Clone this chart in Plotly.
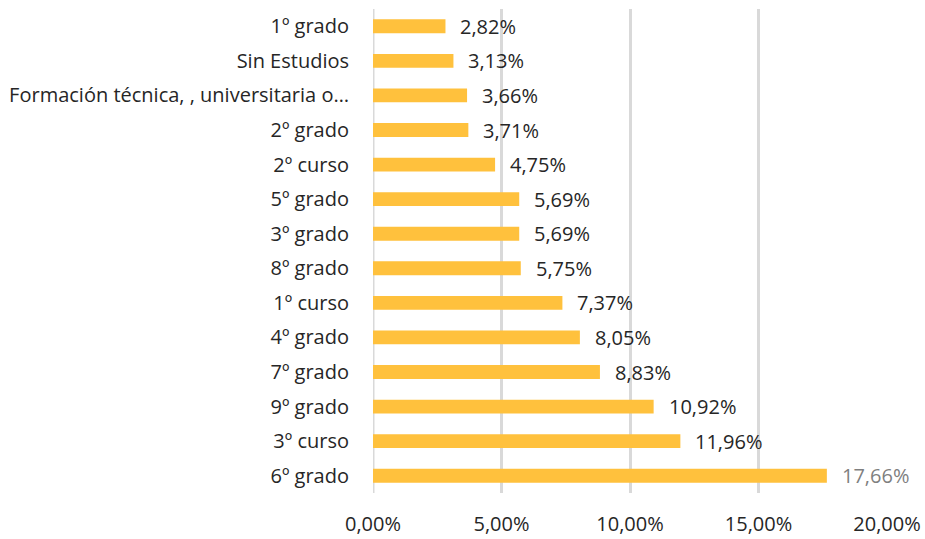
import plotly.graph_objects as go

categories = ["1º grado", "Sin Estudios", "Formación técnica, , universitaria o…",
              "2º grado", "2º curso", "5º grado", "3º grado", "8º grado",
              "1º curso", "4º grado", "7º grado", "9º grado", "3º curso", "6º grado"]
values = [2.82, 3.13, 3.66, 3.71, 4.75, 5.69, 5.69, 5.75, 7.37, 8.05, 8.83, 10.92, 11.96, 17.66]
tick_values = [0, 5, 10, 15, 20]

def fmt(v):
    return f"{v:.2f}".replace(".", ",") + "%"

font_family = "'Open Sans', sans-serif"
bar_color = "#FFC13D"
fs = 20

fig = go.Figure()
fig.add_trace(go.Bar(
    y=categories, x=values, orientation="h",
    marker=dict(color=bar_color, line=dict(width=0)),
    width=0.4, hoverinfo="skip",
))

label_colors = ["#262626"] * (len(values) - 1) + ["#7F7F7F"]
for c, v, col in zip(categories, values, label_colors):
    fig.add_annotation(x=v, y=c, text=fmt(v), showarrow=False,
                       xanchor="left", yanchor="middle", xshift=13,
                       font=dict(family=font_family, size=fs, color=col))

fig.update_layout(
    width=925, height=539,
    margin=dict(l=373, r=38, t=9, b=46, autoexpand=False),
    paper_bgcolor="white", plot_bgcolor="white",
    showlegend=False,
    font=dict(family=font_family, size=fs, color="#262626"),
    xaxis=dict(range=[0, 20], tickvals=tick_values,
               ticktext=[fmt(t) for t in tick_values],
               showgrid=True, gridcolor="#D9D9D9", gridwidth=3,
               zeroline=False, showline=False, automargin=False,
               ticks="outside", ticklen=13, tickcolor="rgba(0,0,0,0)",
               tickfont=dict(family=font_family, size=fs, color="#262626"),
               fixedrange=True),
    yaxis=dict(categoryorder="array", categoryarray=categories,
               autorange="reversed", showgrid=False, zeroline=False,
               showline=False, ticks="outside", ticklen=19, automargin=False,
               tickcolor="rgba(0,0,0,0)",
               tickfont=dict(family=font_family, size=fs, color="#262626"),
               fixedrange=True),
)
fig.add_shape(type="line", xref="x", yref="paper", x0=0, x1=0, y0=0, y1=1,
              line=dict(color="#D9D9D9", width=3), layer="below")

fig.write_html("out.html", config={"displayModeBar": False})
with open("out.html", encoding="utf-8") as f:
    html = f.read()
html = html.replace("<head>", "<head><style>html,body{margin:0;padding:0;overflow:hidden;}</style>", 1)
with open("out.html", "w", encoding="utf-8") as f:
    f.write(html)
